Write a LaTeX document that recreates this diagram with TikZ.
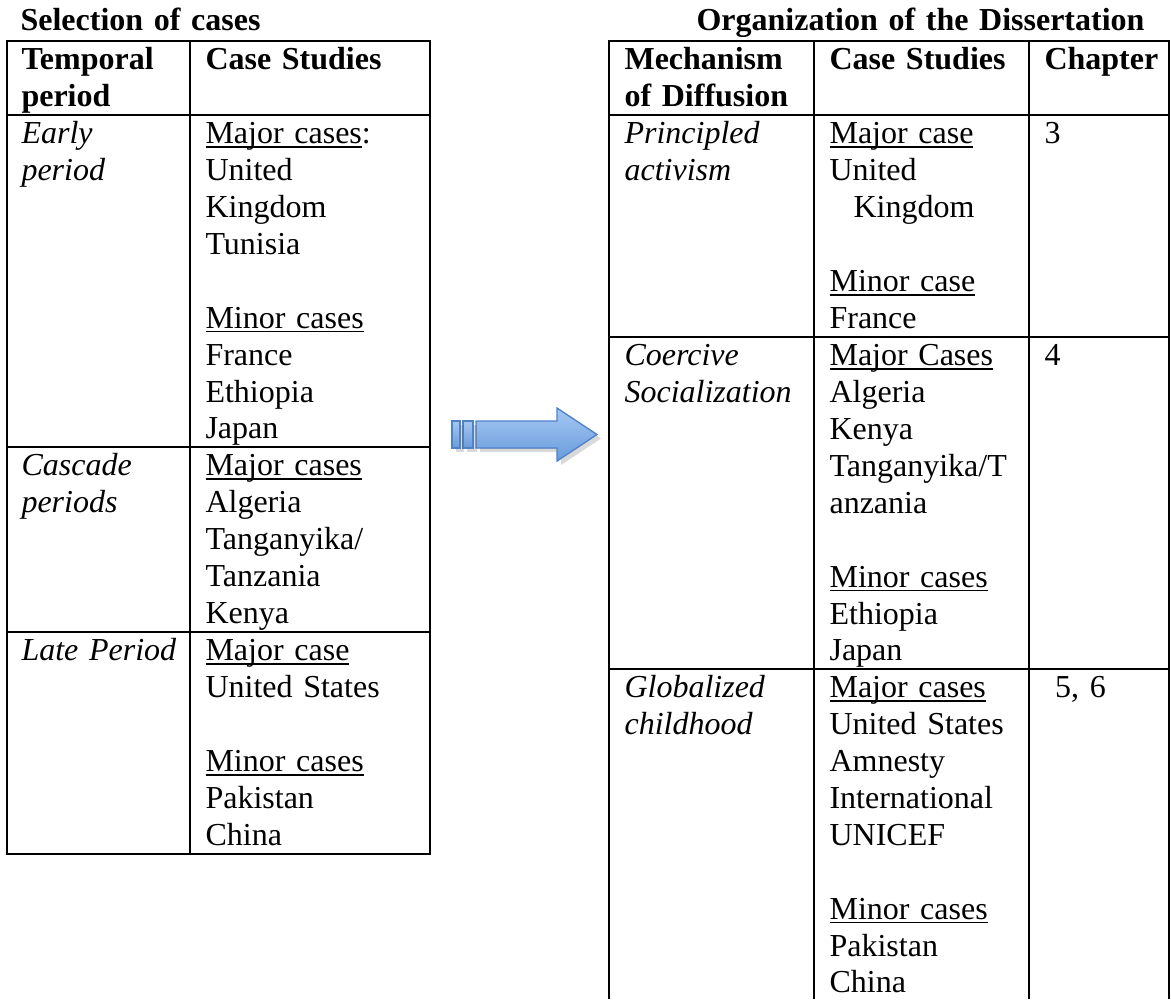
\documentclass[tikz,border=0pt]{standalone}
\usepackage{fontspec}
\setmainfont{Liberation Serif}
\usetikzlibrary{shadows}

\definecolor{arrowtop}{RGB}{165,200,242}
\definecolor{arrowbot}{RGB}{105,155,220}
\definecolor{arrowedge}{RGB}{80,130,200}

% underline placed just below the baseline
\newcommand{\undertext}[1]{\leavevmode\setbox0\hbox{#1}\rlap{\vrule height -1.0pt depth 1.6pt width \wd0}\box0}

\begin{document}
\begin{tikzpicture}[x=0.375pt, y=-0.375pt]
    % Define styles
    \tikzset{
        cell/.style={
            anchor=base west,
            inner sep=0pt,
            text width=175pt,
            align=left,
            font=\fontsize{12pt}{13.85pt}\selectfont
        },
        cellhead/.style={
            cell,
            font=\fontsize{12pt}{13.85pt}\selectfont\bfseries
        },
        cellname/.style={
            cell,
            font=\fontsize{12pt}{13.85pt}\selectfont\itshape
        },
        tableline/.style={
            draw=black,
            line width=0.8pt
        },
        arrowbody/.style={
            draw=arrowedge,
            line width=0.5pt,
            top color=arrowtop,
            bottom color=arrowbot,
            drop shadow={shadow xshift=1.5pt, shadow yshift=-1.5pt, opacity=0.25, fill=black!60}
        }
    }

    \useasboundingbox (0,0) rectangle (1171,999);

    % Selection of cases
    \node[cellhead] (seltitle) at (20,30) {Selection of cases};

    % Left table rules
    \draw[tableline] (7,41) rectangle (430,854);
    \draw[tableline] (190,41) -- (190,854);
    \draw[tableline] (7,115) -- (430,115);
    \draw[tableline] (7,447) -- (430,447);
    \draw[tableline] (7,632) -- (430,632);

    % Left table header
    \node[cellhead] (temphead) at (21,69.5) {Temporal\\period};
    \node[cellhead] (casehead) at (205,69.5) {Case Studies};

    % Early period
    \node[cellname] (early) at (21,143.5) {Early\\period};
    \node[cell] (earlycases) at (205,143.5) {\undertext{Major cases}:\\United\\Kingdom\\Tunisia\\ \mbox{}\\ \undertext{Minor cases}\\France\\Ethiopia\\Japan};

    % Cascade periods
    \node[cellname] (cascade) at (21,475.5) {Cascade\\periods};
    \node[cell] (cascadecases) at (205,475.5) {\undertext{Major cases}\\Algeria\\Tanganyika/\\Tanzania\\Kenya};

    % Late period
    \node[cellname] (late) at (21,660.5) {Late Period};
    \node[cell] (latecases) at (205,660.5) {\undertext{Major case}\\United States\\ \mbox{}\\ \undertext{Minor cases}\\Pakistan\\China};

    % Arrow between the tables
    \fill[arrowbody] (476,421) -- (557,421) -- (557,408) -- (597,434.5) -- (557,461) -- (557,448) -- (476,448) -- cycle;
    \fill[arrowbody] (463,421) rectangle (473,448);
    \fill[arrowbody] (452,421) rectangle (460,448);

    % Organization of the Dissertation
    \node[cellhead] (orgtitle) at (696,30) {Organization of the Dissertation};

    % Right table rules
    \draw[tableline] (609,999) -- (609,41) -- (1169,41) -- (1169,999);
    \draw[tableline] (814,41) -- (814,999);
    \draw[tableline] (1029,41) -- (1029,999);
    \draw[tableline] (609,115) -- (1169,115);
    \draw[tableline] (609,337) -- (1169,337);
    \draw[tableline] (609,669) -- (1169,669);

    % Right table header
    \node[cellhead] (mechhead) at (624,69.5) {Mechanism\\of Diffusion};
    \node[cellhead] (studyhead) at (829,69.5) {Case Studies};
    \node[cellhead] (chaphead) at (1044,69.5) {Chapter};

    % Principled activism
    \node[cellname] (principled) at (624,143.5) {Principled\\activism};
    \node[cell] (principledcases) at (829,143.5) {\undertext{Major case}\\United\\\hspace*{9pt}Kingdom\\ \mbox{}\\ \undertext{Minor case}\\France};
    \node[cell] (chapthree) at (1044,143.5) {3};

    % Coercive socialization
    \node[cellname] (coercive) at (624,365.5) {Coercive\\Socialization};
    \node[cell] (coercivecases) at (829,365.5) {\undertext{Major Cases}\\Algeria\\Kenya\\Tanganyika/T\\anzania\\ \mbox{}\\ \undertext{Minor cases}\\Ethiopia\\Japan};
    \node[cell] (chapfour) at (1044,365.5) {4};

    % Globalized childhood
    \node[cellname] (global) at (624,697.5) {Globalized\\childhood};
    \node[cell] (globalcases) at (829,697.5) {\undertext{Major cases}\\United States\\Amnesty\\International\\UNICEF\\ \mbox{}\\ \undertext{Minor cases}\\Pakistan\\China};
    \node[cell] (chapfive) at (1044,697.5) {\hspace*{4pt}5, 6};

\end{tikzpicture}
\end{document}
